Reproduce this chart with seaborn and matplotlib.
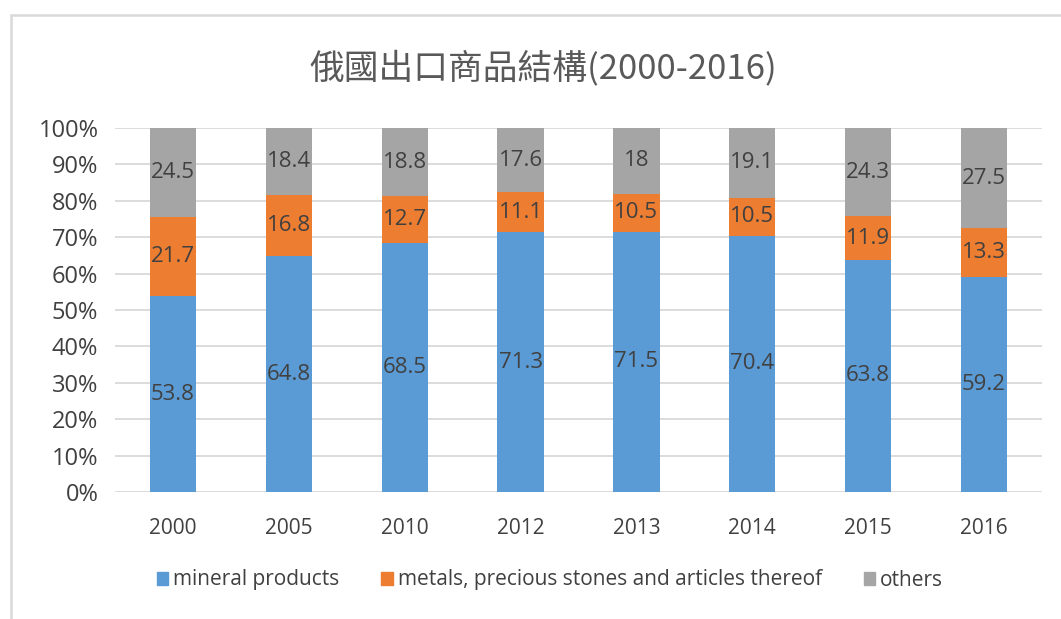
import matplotlib
matplotlib.use("Agg")
import matplotlib.pyplot as plt
from matplotlib.patches import Rectangle
from matplotlib.ticker import FuncFormatter, MultipleLocator
import seaborn as sns
import pandas as pd
import numpy as np

years = ["2000", "2005", "2010", "2012", "2013", "2014", "2015", "2016"]
mineral = [53.8, 64.8, 68.5, 71.3, 71.5, 70.4, 63.8, 59.2]
metals = [21.7, 16.8, 12.7, 11.1, 10.5, 10.5, 11.9, 13.3]
others = [24.5, 18.4, 18.8, 17.6, 18.0, 19.1, 24.3, 27.5]
series_names = ["mineral products", "metals, precious stones and articles thereof", "others"]
colors = ["#5B9BD5", "#ED7D31", "#A5A5A5"]
title = "俄國出口商品結構(2000-2016)"

sns.set_theme(style="white")
plt.rcParams["font.family"] = ["Open Sans", "Noto Sans CJK TC", "DejaVu Sans"]

m = np.array(mineral); t = np.array(metals); o = np.array(others)
total = m + t + o
c1 = m / total
c2 = (m + t) / total
c3 = total / total

df = pd.DataFrame({"year": years, "c1": c1, "c2": c2, "c3": c3})

fig = plt.figure(figsize=(10.61, 6.19), dpi=100)
ax = fig.add_axes([115/1061, 1-492/619, (1042-115)/1061, (492-128)/619])

# frame border
fig.patches.append(Rectangle((11/1061, -0.1), 1.2, 1 - 15/619 + 0.1, transform=fig.transFigure,
                             fill=False, edgecolor="#D9D9D9", linewidth=1.8, zorder=0))

for col, color in zip(["c3", "c2", "c1"], colors[::-1]):
    sns.barplot(data=df, x="year", y=col, color=color, width=0.4, ax=ax,
                saturation=1, edgecolor="none", zorder=3)

ax.set_ylim(0, 1)
ax.set_xlim(-0.5, len(years) - 0.5)
ax.yaxis.set_major_locator(MultipleLocator(0.1))
ax.yaxis.set_major_formatter(FuncFormatter(lambda v, p: f"{v*100:.0f}%"))
ax.grid(axis="y", color="#D9D9D9", linewidth=1.3, zorder=0)
ax.set_axisbelow(True)
for s in ax.spines.values():
    s.set_visible(False)
ax.set_xlabel("")
ax.set_ylabel("")
ax.tick_params(axis="both", length=0, labelcolor="#404040")
ax.tick_params(axis="x", pad=19, labelsize=15)
ax.tick_params(axis="y", pad=12, labelsize=17)

# data labels
lab_color = "#404040"
for i in range(len(years)):
    segs = [(0, c1[i], mineral[i]), (c1[i], c2[i], metals[i]), (c2[i], c3[i], others[i])]
    for lo, hi, v in segs:
        txt = f"{v:g}"
        ax.text(i, (lo + hi) / 2, txt, ha="center", va="center", fontsize=16,
                color=lab_color, zorder=5)

fig.text(543/1061, 1 - 68/619, title, ha="center", va="center", fontsize=25,
         color="#595959", family=["Noto Sans CJK TC", "DejaVu Sans"])

handles = [Rectangle((0, 0), 1, 1, color=c) for c in colors]
fig.legend(handles, series_names, loc="center", bbox_to_anchor=(550/1061, 1 - 580/619),
           ncol=3, frameon=False, fontsize=15, handlelength=0.55, handleheight=0.6,
           handletextpad=0.25, columnspacing=2.0, labelcolor="#404040")

fig.savefig("out.png", dpi=100)
